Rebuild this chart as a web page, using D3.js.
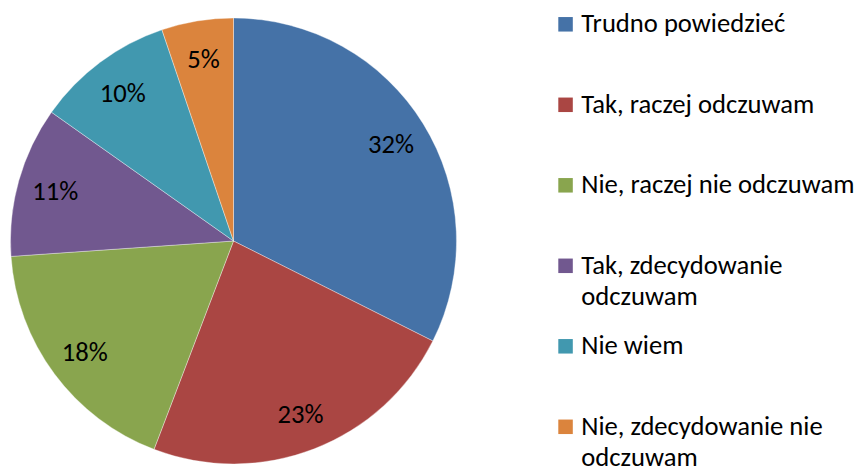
<!DOCTYPE html>
<html>
<head>
<meta charset="utf-8">
<script src="https://cdn.jsdelivr.net/npm/d3@7"></script>
<style>
html,body{margin:0;padding:0;background:#fff;}
svg{display:block;}
text{font-family:Carlito,Calibri,Lato,sans-serif;fill:#000;}
</style>
</head>
<body>
<svg id="chart" width="857" height="468"></svg>
<script>
const categories = ["Trudno powiedzieć","Tak, raczej odczuwam","Nie, raczej nie odczuwam","Tak, zdecydowanie odczuwam","Nie wiem","Nie, zdecydowanie nie odczuwam"];
const values = [32.4, 23.4, 18.1, 10.9, 10.0, 5.2];
const valueLabels = ["32%","23%","18%","11%","10%","5%"];
const colors = ["#4572A7","#AA4643","#89A54E","#71588F","#4198AF","#DB843D"];

const svg = d3.select("#chart");
const cx = 233.5, cy = 241, R = 223;

// fit font size so legend width resembles original Calibri rendering
const probe = svg.append("text").attr("font-size", 26).text(categories[0]);
const w0 = probe.node().getComputedTextLength();
probe.remove();
const fs = Math.max(18, Math.min(28, 26 * 204 / w0));

const data = categories.map((c, i) => ({name: c, value: values[i], label: valueLabels[i], color: colors[i]}));
const pie = d3.pie().sort(null).value(d => d.value);
const arc = d3.arc().innerRadius(0).outerRadius(R);
const labelArc = d3.arc().innerRadius(R * 0.83).outerRadius(R * 0.83);

const g = svg.append("g").attr("transform", `translate(${cx},${cy})`);
const arcs = pie(data);
g.selectAll("path").data(arcs).join("path")
  .attr("d", arc)
  .attr("fill", d => d.data.color)
  .attr("stroke", "#ffffff")
  .attr("stroke-opacity", 0.6)
  .attr("stroke-width", 0.6);

g.selectAll("text.lbl").data(arcs).join("text")
  .attr("class", "lbl")
  .attr("transform", d => `translate(${labelArc.centroid(d)})`)
  .attr("text-anchor", "middle")
  .attr("dy", "0.35em")
  .attr("font-size", fs)
  .text(d => d.data.label);

// legend
const legX = 558.3, legY0 = 24.3, legStep = 80.5, sw = 14.5, maxW = 285, lineH = 31;
const leg = svg.append("g");
data.forEach((d, i) => {
  const y = legY0 + i * legStep;
  leg.append("rect").attr("x", legX).attr("y", y - sw / 2).attr("width", sw).attr("height", sw).attr("fill", d.color);
  const t = leg.append("text").attr("x", legX + 23).attr("y", y + 8).attr("font-size", fs);
  const words = d.name.split(" ");
  let line = [], lines = [];
  const tmp = svg.append("text").attr("font-size", fs);
  words.forEach(w => {
    const test = line.concat([w]).join(" ");
    tmp.text(test);
    if (tmp.node().getComputedTextLength() > maxW && line.length) {
      lines.push(line.join(" "));
      line = [w];
    } else line.push(w);
  });
  lines.push(line.join(" "));
  tmp.remove();
  lines.forEach((l, k) => {
    t.append("tspan").attr("x", legX + 23).attr("dy", k === 0 ? 0 : lineH).text(l);
  });
});
</script>
</body>
</html>
